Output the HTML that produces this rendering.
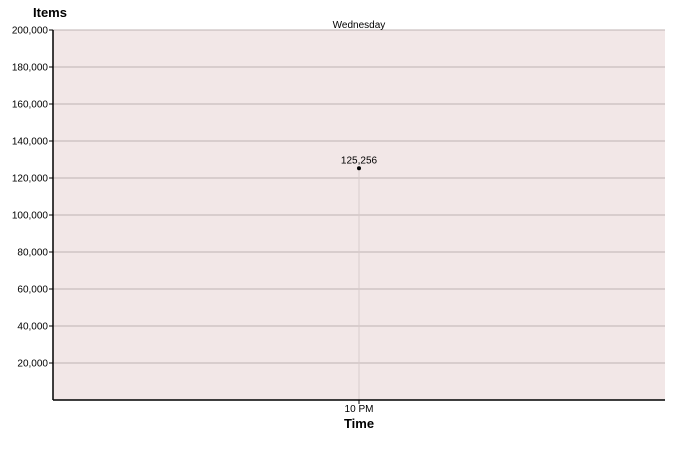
<!DOCTYPE html>
<html><head><meta charset="utf-8"><style>
body{margin:0;background:#fff;}
svg{display:block;font-family:"Liberation Sans","DejaVu Sans",sans-serif;}
</style></head><body>
<svg id="chart" width="680" height="450">
<rect x="53" y="30" width="612" height="370" fill="#f2e7e7"/>
<g id="grid"></g>
<g id="yticks"></g>
<g id="marks"></g>
<line x1="53" y1="30" x2="53" y2="400" stroke="#000" stroke-width="1.5"/>
<line x1="53" y1="400" x2="665" y2="400" stroke="#000" stroke-width="1.5"/>
<text x="33" y="17" font-size="13" font-weight="bold">Items</text>
<text x="359" y="28" font-size="10" text-anchor="middle">Wednesday</text>
<text x="359" y="428" font-size="13" font-weight="bold" text-anchor="middle">Time</text>
</svg>
<script>
const categories=["10 PM"];
const values=[125256];
const yTicks=[20000,40000,60000,80000,100000,120000,140000,160000,180000,200000];
const yMax=200000;
const NS="http://www.w3.org/2000/svg";
const L=53,R=665,T=30,B=400;
function yScale(v){return B-(v/yMax)*(B-T);}
function xScale(i){return L+(R-L)*(i+0.5)/categories.length;}
function mk(tag,attrs,parent,txt){const e=document.createElementNS(NS,tag);for(const k in attrs)e.setAttribute(k,attrs[k]);if(txt!==undefined)e.textContent=txt;document.getElementById(parent).appendChild(e);return e;}
yTicks.forEach(t=>{
  const y=yScale(t);
  const g=mk('line',{x1:L,x2:R,y1:y,y2:y,stroke:'#bfb3b3','stroke-width':1},'grid');
  
  
  const tk=mk('line',{x1:L-4,x2:L,y1:y,y2:y,stroke:'#000'},'yticks');
  
  
  const lb=mk('text',{x:L-5,y:y+3.5,'font-size':10,'text-anchor':'end'},'yticks',t.toLocaleString('en-US'));
  
  
});
categories.forEach((c,i)=>{
  const x=xScale(i),y=yScale(values[i]);
  const dl=mk('line',{x1:x,x2:x,y1:y,y2:B,stroke:'#d8cccc'},'marks');
  
  
  const tk=mk('line',{x1:x,x2:x,y1:B,y2:B+4,stroke:'#000'},'marks');
  
  
  const xl=mk('text',{x:x,y:B+12,'font-size':10,'text-anchor':'middle'},'marks',c);
  
  
  const p=mk('circle',{cx:x,cy:y,r:2,fill:'#000'},'marks');
  
  
  const vl=mk('text',{x:x,y:y-5,'font-size':10,'text-anchor':'middle'},'marks',values[i].toLocaleString('en-US'));
  
  
});
</script>
</body></html>
